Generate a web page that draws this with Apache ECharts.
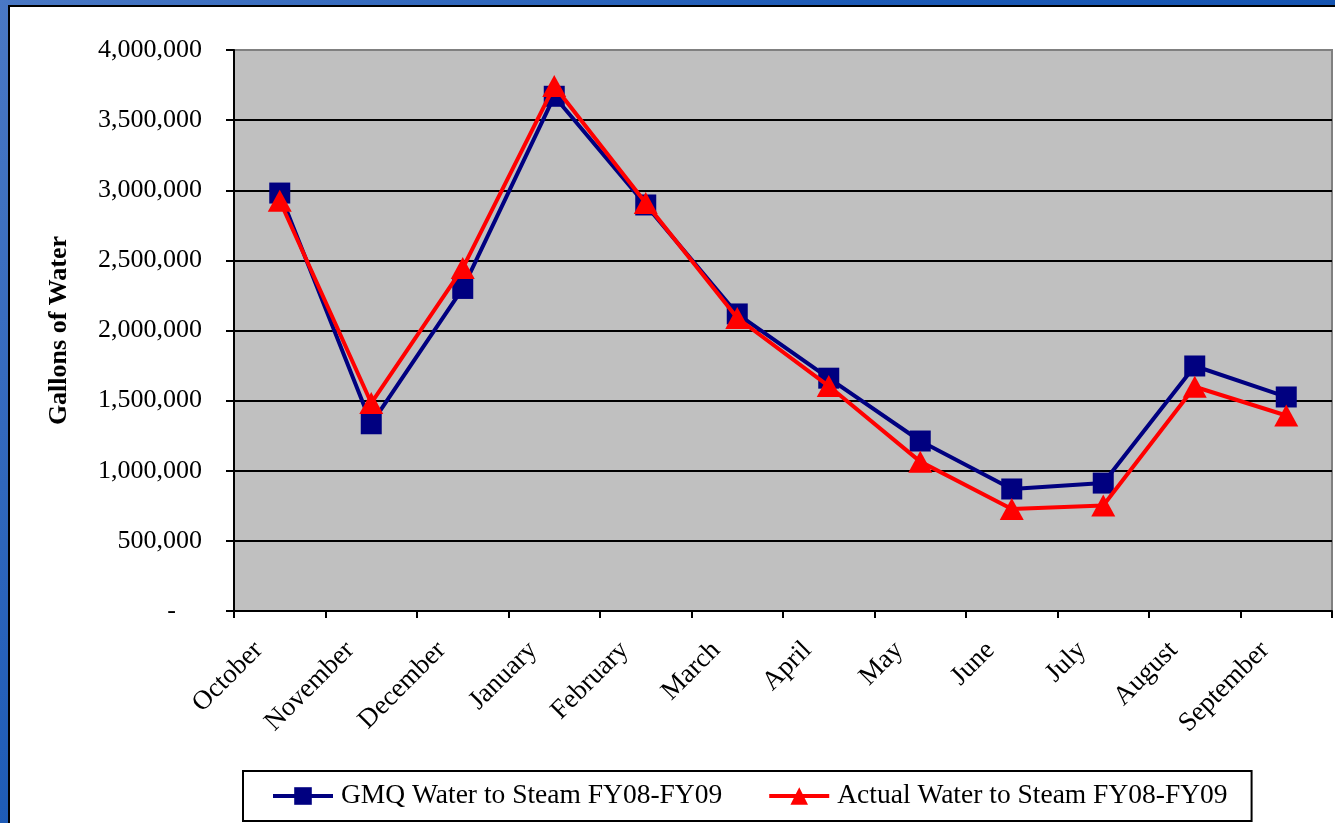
<!DOCTYPE html>
<html>
<head>
<meta charset="utf-8">
<script src="https://cdn.jsdelivr.net/npm/echarts@6/dist/echarts.min.js"></script>
<style>
  html, body { margin: 0; padding: 0; width: 1335px; height: 823px; overflow: hidden; }
  body { background: linear-gradient(135deg, #4a78c4 0%, #1c5ab6 40%, #0a4aa8 100%); position: relative; }
  #panel { position: absolute; left: 8px; top: 5px; right: 0; bottom: 0;
           background: #ffffff; border-left: 2px solid #000; border-top: 2px solid #000; }
  #chart { position: absolute; left: 0; top: 0; width: 1335px; height: 823px; }
</style>
</head>
<body>
<div id="panel"></div>
<div id="chart"></div>
<script>
// Fiscal-year months, October through September
const months = ['October', 'November', 'December', 'January', 'February', 'March',
                'April', 'May', 'June', 'July', 'August', 'September'];

// Gallons of water sent to steam, FY08-FY09
const gmqWater = [2980000, 1335000, 2300000, 3670000, 2895000, 2118000,
                  1660000, 1212000, 870000, 912000, 1747000, 1526000];
const actualWater = [2925000, 1483000, 2445000, 3743000, 2909000, 2089000,
                     1604000, 1065000, 727000, 752000, 1599000, 1394000];

// Y axis range and step
const yMin = 0;
const yMax = 4000000;
const yStep = 500000;

const seriesNames = ['GMQ Water to Steam FY08-FY09', 'Actual Water to Steam FY08-FY09'];

const serif = "'Liberation Serif', 'Times New Roman', serif";

function fmtGallons(v) {
  if (v === 0) return '-    ';
  return v.toString().replace(/\B(?=(\d{3})+(?!\d))/g, ',');
}

const chart = echarts.init(document.getElementById('chart'), null, { renderer: 'canvas' });

chart.setOption({
  backgroundColor: 'transparent',
  animation: false,
  grid: {
    left: 234, top: 50, right: 3, bottom: 212,
    show: true,
    backgroundColor: '#c0c0c0',
    borderColor: '#808080',
    borderWidth: 2
  },
  legend: {
    left: 243,
    top: 771,
    orient: 'horizontal',
    padding: [11, 24, 11, 28],
    itemGap: 45,
    itemWidth: 60,
    itemHeight: 22,
    borderColor: '#000',
    borderWidth: 2,
    backgroundColor: '#fff',
    lineStyle: { width: 4 },
    data: seriesNames,
    textStyle: { fontFamily: serif, fontSize: 27.5, color: '#000', padding: [0, 0, 0, 3] }
  },
  xAxis: {
    type: 'category',
    data: months,
    boundaryGap: true,
    axisLine: { show: true, lineStyle: { color: '#000', width: 2 } },
    axisTick: { show: true, length: 7, inside: false, alignWithLabel: false,
                lineStyle: { color: '#000', width: 2 } },
    axisLabel: {
      interval: 0,
      rotate: 45,
      margin: 14,
      padding: [0, 30, 0, 0],
      fontFamily: serif,
      fontSize: 27,
      color: '#000'
    },
    splitLine: { show: false }
  },
  yAxis: {
    type: 'value',
    min: yMin,
    max: yMax,
    interval: yStep,
    name: 'Gallons of Water',
    nameLocation: 'middle',
    nameGap: 162,
    nameRotate: 90,
    nameTextStyle: { fontFamily: serif, fontSize: 26, fontWeight: 'bold', color: '#000' },
    axisLine: { show: true, lineStyle: { color: '#000', width: 2 } },
    axisTick: { show: true, length: 8, inside: false, lineStyle: { color: '#000', width: 2 } },
    axisLabel: {
      margin: 32,
      fontFamily: serif,
      fontSize: 26,
      color: '#000',
      formatter: fmtGallons
    },
    splitLine: {
      show: true,
      showMinLine: false,
      showMaxLine: false,
      lineStyle: { color: '#000', width: 2 }
    }
  },
  series: [
    {
      name: seriesNames[0],
      type: 'line',
      data: gmqWater,
      symbol: 'rect',
      symbolSize: 21,
      showAllSymbol: true,
      lineStyle: { color: '#000080', width: 4 },
      itemStyle: { color: '#000080' },
      z: 2
    },
    {
      name: seriesNames[1],
      type: 'line',
      data: actualWater,
      symbol: 'triangle',
      symbolSize: [24, 22],
      showAllSymbol: true,
      lineStyle: { color: '#ff0000', width: 4 },
      itemStyle: { color: '#ff0000' },
      z: 3
    }
  ]
});
</script>
</body>
</html>
